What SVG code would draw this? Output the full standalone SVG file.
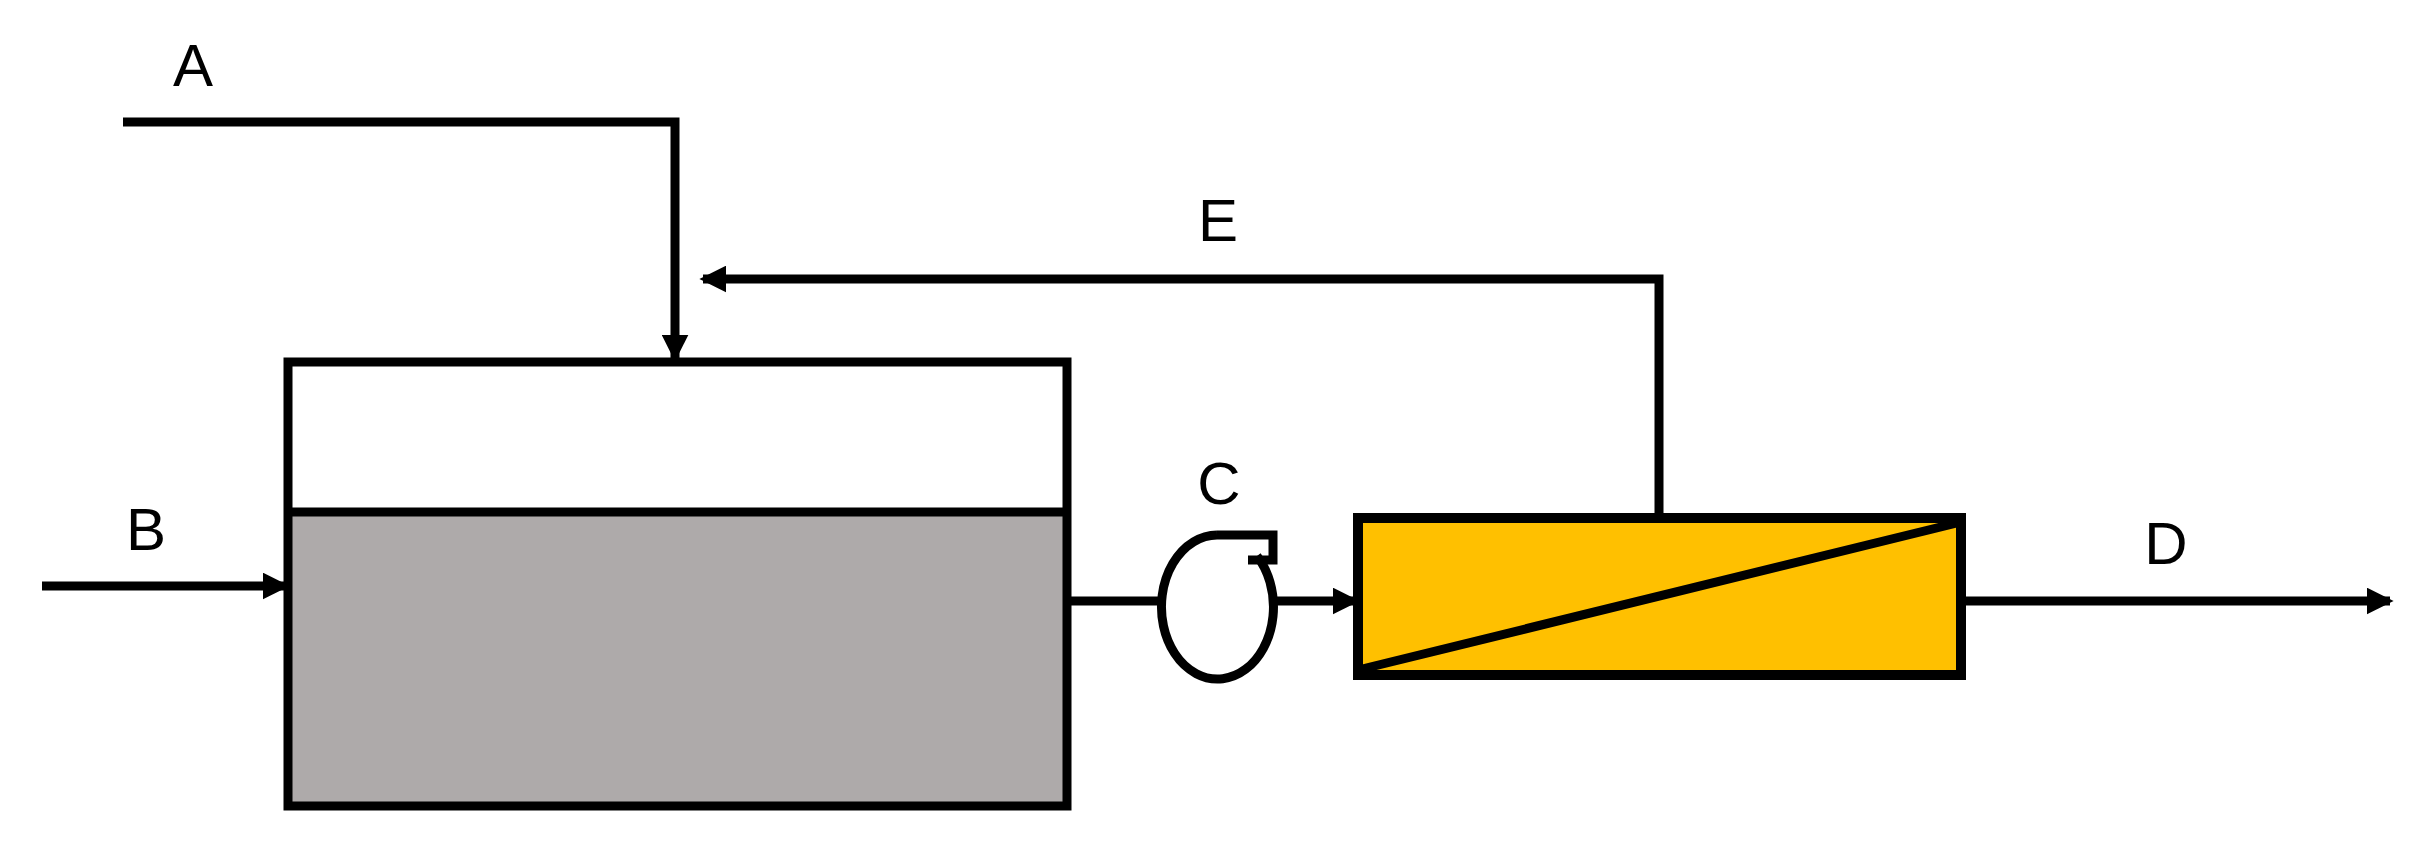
<svg xmlns="http://www.w3.org/2000/svg" width="2417" height="862" viewBox="0 0 2417 862">
<style>
.l{fill:none;stroke:#000;stroke-width:9}
.t{font-family:"Liberation Sans",Arial,sans-serif;font-size:60px;fill:#000;text-anchor:middle}
</style>
<defs><marker id="ar" markerWidth="3" markerHeight="3" refX="2.6" refY="1.5" orient="auto" markerUnits="strokeWidth"><path d="M0,0 L3,1.5 L0,3 Z" fill="#000"/></marker></defs>
<rect width="2417" height="862" fill="#fff"/>
<g id="tank"><rect x="288" y="512" width="779" height="294" fill="#aeaaaa"/><rect x="288" y="362" width="779" height="444" class="l" stroke-width="10"/><line x1="288" y1="512" x2="1067" y2="512" class="l" stroke-width="10"/></g>
<g id="filter"><rect x="1358" y="518" width="603" height="157" fill="#ffc000" stroke="#000" stroke-width="10"/><line x1="1358" y1="670" x2="1961" y2="522" class="l"/></g>
<g id="pump"><path d="M1217,535 A56,72 0 1 0 1257,556" fill="#fff" stroke="#000" stroke-width="9"/><path d="M1217,535 H1273 V560 H1248" class="l"/></g>
<g id="connectors">
<path d="M123,122 H675 V358" class="l" marker-end="url(#ar)"/>
<path d="M1659,513 V279 H703" class="l" marker-end="url(#ar)"/>
<path d="M42,586 H286" class="l" marker-end="url(#ar)"/>
<path d="M1067,601 H1161" class="l"/>
<path d="M1273,601 H1356" class="l" marker-end="url(#ar)"/>
<path d="M1961,601 H2390" class="l" marker-end="url(#ar)"/>
</g>
<g id="labels">
<text x="193" y="86" class="t">A</text>
<text x="146" y="550" class="t">B</text>
<text x="1219" y="504" class="t">C</text>
<text x="2166" y="564" class="t">D</text>
<text x="1218" y="241" class="t">E</text>
</g>
</svg>
